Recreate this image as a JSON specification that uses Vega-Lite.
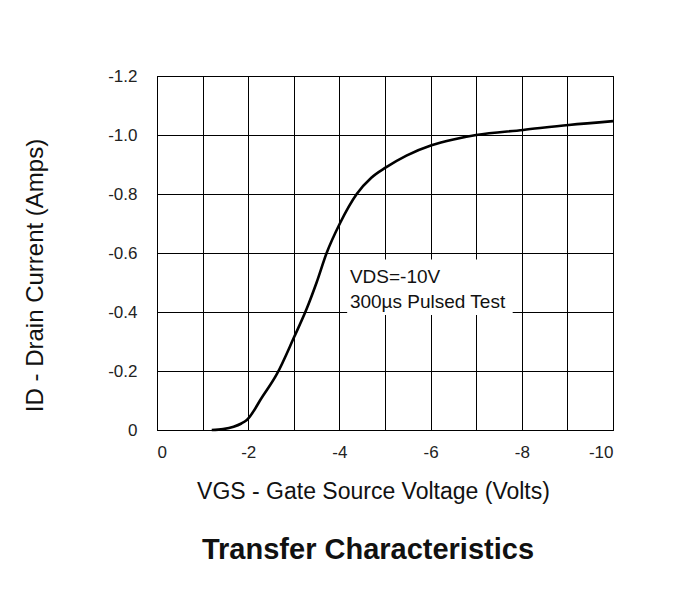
{
  "$schema": "https://vega.github.io/schema/vega-lite/v6.json",
  "width": 456,
  "height": 354,
  "autosize": {"type": "none"},
  "padding": {"left": 157, "top": 76, "right": 64, "bottom": 159},
  "background": "white",
  "config": {
    "font": "Liberation Sans",
    "view": {"stroke": "black", "strokeWidth": 1}
  },
  "title": {
    "text": "Transfer Characteristics",
    "orient": "bottom",
    "anchor": "middle",
    "fontSize": 29,
    "fontWeight": "bold",
    "color": "#111",
    "offset": 33,
    "dx": -17,
    "font": "Liberation Sans"
  },
  "datasets": {
    "curve": [
      {"vgs": -1.2, "id": 0},
      {"vgs": -1.45, "id": -0.003},
      {"vgs": -1.68, "id": -0.011},
      {"vgs": -1.85, "id": -0.022},
      {"vgs": -1.97, "id": -0.034},
      {"vgs": -2.3, "id": -0.11},
      {"vgs": -2.63, "id": -0.19},
      {"vgs": -3.01, "id": -0.316},
      {"vgs": -3.28, "id": -0.41},
      {"vgs": -3.5, "id": -0.5},
      {"vgs": -3.72, "id": -0.6},
      {"vgs": -4.01, "id": -0.7},
      {"vgs": -4.38, "id": -0.8},
      {"vgs": -4.7, "id": -0.855},
      {"vgs": -5.02, "id": -0.89},
      {"vgs": -5.47, "id": -0.93},
      {"vgs": -6.02, "id": -0.965},
      {"vgs": -6.5, "id": -0.985},
      {"vgs": -7.0, "id": -1.0},
      {"vgs": -8.03, "id": -1.017},
      {"vgs": -9.03, "id": -1.034},
      {"vgs": -10, "id": -1.047}
    ],
    "note": [
      {"x": -4.17, "x2": -7.8, "y": -0.39, "y2": -0.578, "tx": -4.23, "ty": -0.498, "label": "VDS=-10V\n300µs Pulsed Test"}
    ]
  },
  "layer": [
    {
      "data": {"name": "note"},
      "mark": {"type": "rect", "fill": "white", "stroke": null},
      "encoding": {
        "x": {"field": "x", "type": "quantitative", "scale": {"domain": [0, -10], "nice": false, "zero": false},
          "axis": {
            "values": [0, -1, -2, -3, -4, -5, -6, -7, -8, -9, -10],
            "labelExpr": "datum.value % 2 == 0 ? (datum.value == 0 ? '0' : '-' + format(-datum.value, 'd')) : ''",
            "grid": true, "gridColor": "black", "gridOpacity": 1, "gridWidth": 1,
            "ticks": false, "domainColor": "black",
            "labelFontSize": 17, "labelColor": "#222", "labelPadding": 14, "labelFont": "Liberation Sans",
            "title": "VGS - Gate Source Voltage (Volts)", "titleFontSize": 23, "titleFontWeight": "normal",
            "titleColor": "#111", "titlePadding": 20, "titleX": 216, "titleFont": "Liberation Sans"
          }},
        "x2": {"field": "x2"},
        "y": {"field": "y", "type": "quantitative", "scale": {"domain": [0, -1.2], "nice": false, "zero": false},
          "axis": {
            "values": [0, -0.2, -0.4, -0.6, -0.8, -1.0, -1.2],
            "labelExpr": "datum.value == 0 ? '0' : '-' + format(-datum.value, '.1f')",
            "grid": true, "gridColor": "black", "gridOpacity": 1, "gridWidth": 1,
            "ticks": false, "domainColor": "black",
            "labelFontSize": 17, "labelColor": "#222", "labelPadding": 20, "labelFont": "Liberation Sans",
            "title": "ID - Drain Current (Amps)", "titleFontSize": 24, "titleFontWeight": "normal",
            "titleColor": "#111", "titleX": -110, "titleY": 199, "titleFont": "Liberation Sans"
          }},
        "y2": {"field": "y2"}
      }
    },
    {
      "data": {"name": "curve"},
      "mark": {"type": "line", "color": "black", "strokeWidth": 2.6, "interpolate": "monotone"},
      "encoding": {
        "x": {"field": "vgs", "type": "quantitative"},
        "y": {"field": "id", "type": "quantitative"}
      }
    },
    {
      "data": {"name": "note"},
      "mark": {"type": "text", "align": "left", "baseline": "alphabetic", "lineBreak": "\n", "lineHeight": 25,
        "fontSize": 19, "font": "Liberation Sans", "color": "#111"},
      "encoding": {
        "x": {"field": "tx", "type": "quantitative"},
        "y": {"field": "ty", "type": "quantitative"},
        "text": {"field": "label"}
      }
    }
  ]
}
